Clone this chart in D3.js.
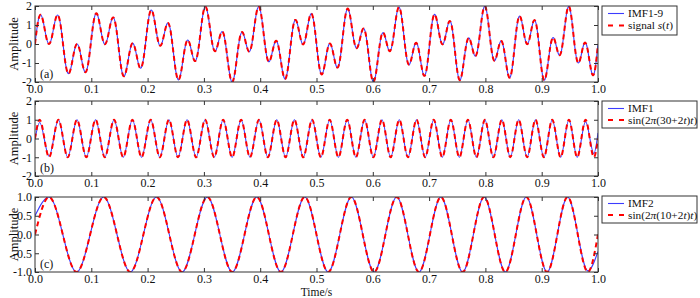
<!DOCTYPE html>
<html>
<head>
<meta charset="utf-8">
<script src="https://cdn.jsdelivr.net/npm/d3@7"></script>
<style>
  body { margin: 0; background: #fff; }
  svg { display: block; font-family: "Liberation Serif", "Times New Roman", serif; }
</style>
</head>
<body>
<div id="chart"></div>
<script>
// EMD decomposition of a two-component chirp: s(t) vs IMFs

var sampleStep = 0.005;

var signalValues = [
  0, 1.12, 1.54, 1.12, 0.36, 0, 0.37, 1.12, 1.53, 1.08, -0.06, -1.18, -1.56, -1.10, -0.33, 0, -0.40, -1.15, -1.48, -0.94, 0.25,
  1.32, 1.60, 1.04, 0.27, 0, 0.46, 1.17, 1.37, 0.68, -0.56, -1.53, -1.62, -0.93, -0.16, 0, -0.53, -1.17, -1.16, -0.29, 0.96,
  1.74, 1.57, 0.74, 0.01, 0, 0.59, 1.09, 0.82, -0.24, -1.41, -1.89, -1.39, -0.43, 0.18, 0, -0.62, -0.89, -0.32, 0.85, 1.81,
  1.85, 1.01, 0.01, -0.38, 0, 0.56, 0.54, -0.32, -1.45, -2.00, -1.52, -0.41, 0.48, 0.55, 0, -0.40, -0.03, 0.99, 1.85, 1.81,
  0.83, -0.36, -0.93, -0.62, 0, 0.12, -0.56, -1.49, -1.82, -1.12, 0.17, 1.13, 1.17, 0.52, 0, 0.23, 1.03, 1.59, 1.21, 0,
  -1.21, -1.59, -1.03, -0.22, 0, -0.53, -1.16, -1.08, -0.07, 1.23, 1.86, 1.43, 0.44, -0.19, 0, 0.61, 0.78, 0.04, -1.19, -1.96,
  -1.65, -0.56, 0.41, 0.54, 0, -0.38, 0.05, 1.10, 1.89, 1.65, 0.50, -0.70, -1.08, -0.59, 0, -0.10, -0.90, -1.62, -1.42, -0.25,
  1.06, 1.56, 1.06, 0.24, 0, 0.53, 1.15, 0.99, -0.12, -1.41, -1.90, -1.28, -0.22, 0.32, 0, -0.56, -0.48, 0.48, 1.63, 1.96,
  1.16, -0.12, -0.85, -0.62, 0, 0.09, -0.66, -1.57, -1.68, -0.68, 0.72, 1.46, 1.13, 0.32, 0, 0.50, 1.17, 1.08, -0.02, -1.37,
  -1.90, -1.27, -0.19, 0.34, 0, -0.54, -0.37, 0.66, 1.75, 1.88, 0.87, -0.43, -1.00, -0.61, 0, -0.08, -0.91, -1.61, -1.30, 0
];
// sum of IMF1-9 reconstructs the signal (no visible difference)
var imfSumValues = signalValues;

var fastTimes = [
  0, 0.0083, 0.0250, 0.0416, 0.0581, 0.0746, 0.0911, 0.1076, 0.1240, 0.1404, 0.1567, 0.1730, 0.1893, 0.2055, 0.2217, 0.2379,
  0.2540, 0.2701, 0.2862, 0.3022, 0.3183, 0.3342, 0.3502, 0.3661, 0.3819, 0.3978, 0.4136, 0.4294, 0.4451, 0.4608, 0.4765,
  0.4922, 0.5078, 0.5234, 0.5390, 0.5545, 0.5700, 0.5855, 0.6009, 0.6163, 0.6317, 0.6471, 0.6624, 0.6777, 0.6930, 0.7082,
  0.7234, 0.7386, 0.7538, 0.7689, 0.7840, 0.7991, 0.8141, 0.8292, 0.8442, 0.8591, 0.8741, 0.8890, 0.9039, 0.9187, 0.9336,
  0.9484, 0.9631, 0.9779, 0.9927, 1
];
var fastSineValues = [
  0, 1, -1, 1, -1, 1, -1, 1, -1, 1, -1, 1, -1, 1, -1, 1, -1, 1, -1, 1, -1, 1, -1, 1, -1, 1, -1, 1, -1, 1, -1, 1, -1,
  1, -1, 1, -1, 1, -1, 1, -1, 1, -1, 1, -1, 1, -1, 1, -1, 1, -1, 1, -1, 1, -1, 1, -1, 1, -1, 1, -1, 1, -1, 1, -1, 0
];
var imf1Values = [
  -0.05, 0.85, -0.95, 1, -1, 1, -1, 1, -1, 1, -1, 1, -1, 1, -1, 1, -1, 1, -1, 1, -1, 1, -1, 1, -1, 1, -1, 1, -1, 1, -1, 1, -1,
  1, -1, 1, -1, 1, -1, 1, -1, 1, -1, 1, -1, 1, -1, 1, -1, 1, -1, 1, -1, 1, -1, 1, -1, 1, -1, 1, -1, 1, -1, 0.9, -0.8, 0.3
];

var slowTimes = [
  0, 0.0249, 0.0739, 0.1220, 0.1693, 0.2158, 0.2613, 0.3062, 0.3504, 0.3940, 0.4368, 0.4791, 0.5208,
  0.5619, 0.6024, 0.6425, 0.6820, 0.7210, 0.7596, 0.7977, 0.8354, 0.8727, 0.9096, 0.9460, 0.9821, 1
];
var slowSineValues = [0, 1, -1, 1, -1, 1, -1, 1, -1, 1, -1, 1, -1, 1, -1, 1, -1, 1, -1, 1, -1, 1, -1, 1, -1, 0];
var imf2Values = [0.5, 1, -1, 1, -1, 1, -1, 1, -1, 1, -1, 1, -1, 1, -1, 1, -1, 1, -1, 1, -1, 1, -1, 1, -0.97, -0.45];

var timeTicks = [0, 0.1, 0.2, 0.3, 0.4, 0.5, 0.6, 0.7, 0.8, 0.9, 1.0];
var wideTicks = [-2, -1, 0, 1, 2];
var unitTicks = [-1, -0.5, 0, 0.5, 1];

var signalTimes = d3.range(signalValues.length).map(function(i) { return i * sampleStep; });

function zipSeries(xs, ys) {
    return xs.map(function(x, i) { return { t: x, v: ys[i] }; });
}

var W = 700, H = 298;
var plotLeft = 35, plotRight = 598;
var blue = "#3c3cff", red = "#ff0000";

var svg = d3.select("#chart").append("svg")
    .attr("width", W)
    .attr("height", H);

var x = d3.scaleLinear().domain([0, 1]).range([plotLeft, plotRight]);

var panels = [
    { tag: "(a)", top: 6, bottom: 82, domain: [-2, 2], ticks: wideTicks,
      fmt: function(d) { return String(d); },
      blue: zipSeries(signalTimes, imfSumValues), red: zipSeries(signalTimes, signalValues),
      curve: d3.curveNatural,
      legend: { y: 6, w: 75, h: 29, rows: [
          [{ s: "IMF1-9" }],
          [{ s: "signal " }, { s: "s", i: true }, { s: "(" }, { s: "t", i: true }, { s: ")" }]
      ] } },
    { tag: "(b)", top: 101, bottom: 176, domain: [-2, 2], ticks: wideTicks,
      fmt: function(d) { return String(d); },
      blue: zipSeries(fastTimes, imf1Values), red: zipSeries(fastTimes, fastSineValues),
      curve: d3.curveMonotoneX,
      legend: { y: 101, w: 95, h: 27, rows: [
          [{ s: "IMF1" }],
          [{ s: "sin(2" }, { s: "π", i: true }, { s: "(30+2" }, { s: "t", i: true }, { s: ")" }, { s: "t", i: true }, { s: ")" }]
      ] } },
    { tag: "(c)", top: 197, bottom: 272, domain: [-1, 1], ticks: unitTicks,
      fmt: function(d) { return d.toFixed(1); },
      blue: zipSeries(slowTimes, imf2Values), red: zipSeries(slowTimes, slowSineValues),
      curve: d3.curveMonotoneX,
      legend: { y: 196, w: 95, h: 27, rows: [
          [{ s: "IMF2" }],
          [{ s: "sin(2" }, { s: "π", i: true }, { s: "(10+2" }, { s: "t", i: true }, { s: ")" }, { s: "t", i: true }, { s: ")" }]
      ] } }
];

panels.forEach(function(p, k) {
    var y = d3.scaleLinear().domain(p.domain).range([p.bottom, p.top]);
    var g = svg.append("g");

    var clipId = "clip" + k;
    svg.append("clipPath").attr("id", clipId)
        .append("rect")
        .attr("x", plotLeft).attr("y", p.top)
        .attr("width", plotRight - plotLeft).attr("height", p.bottom - p.top);

    var line = d3.line()
        .curve(p.curve)
        .x(function(d) { return x(d.t); })
        .y(function(d) { return y(d.v); });

    g.append("path")
        .datum(p.blue)
        .attr("clip-path", "url(#" + clipId + ")")
        .attr("fill", "none")
        .attr("stroke", blue)
        .attr("stroke-width", 1.1)
        .attr("d", line);

    g.append("path")
        .datum(p.red)
        .attr("clip-path", "url(#" + clipId + ")")
        .attr("fill", "none")
        .attr("stroke", red)
        .attr("stroke-width", 2)
        .attr("stroke-dasharray", "5,3.5")
        .attr("d", line);

    // --- axes, ticks pointing inward on all four sides ---
    g.append("g")
        .attr("transform", "translate(0," + p.bottom + ")")
        .call(d3.axisBottom(x).tickValues(timeTicks).tickSize(-4).tickPadding(2.5)
            .tickFormat(function(d) { return d.toFixed(1); }));
    g.append("g")
        .attr("transform", "translate(0," + p.top + ")")
        .call(d3.axisTop(x).tickValues(timeTicks).tickSize(-4).tickFormat(""));
    g.append("g")
        .attr("transform", "translate(" + plotLeft + ",0)")
        .call(d3.axisLeft(y).tickValues(p.ticks).tickSize(-4).tickPadding(3).tickFormat(p.fmt));
    g.append("g")
        .attr("transform", "translate(" + plotRight + ",0)")
        .call(d3.axisRight(y).tickValues(p.ticks).tickSize(-4).tickFormat(""));

    g.selectAll(".domain").remove();
    g.selectAll(".tick line").attr("stroke", "#333");
    g.selectAll(".tick text")
        .attr("fill", "#111")
        .style("font-family", "Liberation Serif, serif")
        .style("font-size", "12px");

    g.append("rect")
        .attr("x", plotLeft).attr("y", p.top)
        .attr("width", plotRight - plotLeft).attr("height", p.bottom - p.top)
        .attr("fill", "none")
        .attr("stroke", "#333")
        .attr("stroke-width", 1);

    // --- y label ---
    g.append("text")
        .attr("transform", "translate(14," + ((p.top + p.bottom) / 2) + ") rotate(-90)")
        .attr("text-anchor", "middle")
        .attr("dy", "0.35em")
        .style("font-size", "12.5px")
        .attr("fill", "#111")
        .text("Amplitude");

    // --- panel tag ---
    g.append("text")
        .attr("x", 40)
        .attr("y", p.bottom - 4)
        .style("font-size", "12px")
        .attr("fill", "#111")
        .text(p.tag);

    // --- legend ---
    var lg = g.append("g").attr("transform", "translate(602," + p.legend.y + ")");
    lg.append("rect")
        .attr("width", p.legend.w).attr("height", p.legend.h)
        .attr("fill", "#fff")
        .attr("stroke", "#333")
        .attr("stroke-width", 1);
    var rowY = [7.5, 19];
    if (p.legend.h > 28) rowY = [7.5, 19.5];
    [blue, red].forEach(function(col, r) {
        lg.append("line")
            .attr("x1", 6).attr("x2", 22)
            .attr("y1", rowY[r]).attr("y2", rowY[r])
            .attr("stroke", col)
            .attr("stroke-width", r === 0 ? 1.1 : 2)
            .attr("stroke-dasharray", r === 0 ? null : "5,6");
        var txt = lg.append("text")
            .attr("x", 26)
            .attr("y", rowY[r])
            .attr("dy", "0.35em")
            .style("font-size", "11.3px")
            .attr("fill", "#111");
        p.legend.rows[r].forEach(function(part) {
            txt.append("tspan")
                .style("font-style", part.i ? "italic" : "normal")
                .text(part.s);
        });
    });
});

svg.append("text")
    .attr("x", (plotLeft + plotRight) / 2)
    .attr("y", 295.5)
    .attr("text-anchor", "middle")
    .style("font-size", "11.5px")
    .attr("fill", "#111")
    .text("Time/s");
</script>
</body>
</html>
